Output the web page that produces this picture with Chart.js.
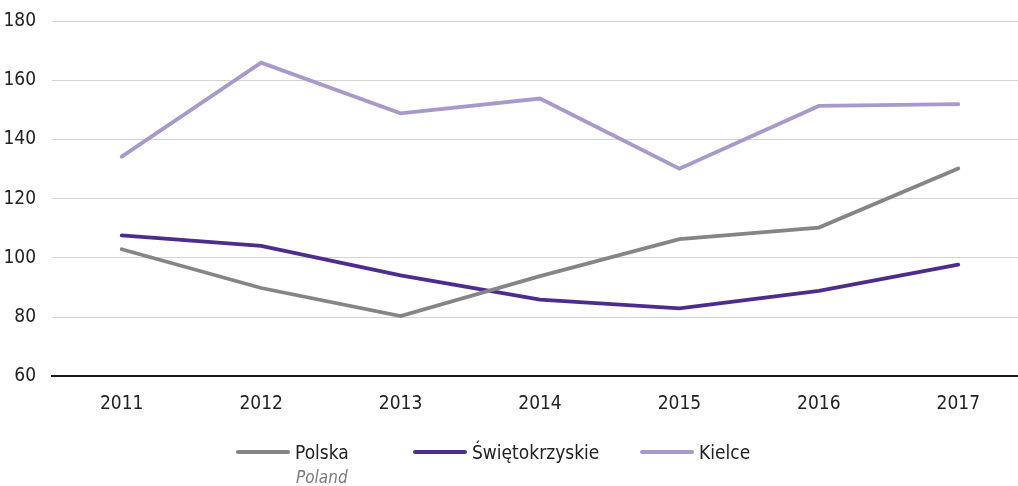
<!DOCTYPE html>
<html>
<head>
  <meta charset="UTF-8">
  <title>Polska, Świętokrzyskie, Kielce 2011–2017</title>
  <script src="https://cdn.jsdelivr.net/npm/chart.js"></script>
  <style>
    body {
      margin: 0;
      background: #ffffff;
      font-family: "Liberation Sans Narrow", "DejaVu Sans Condensed", sans-serif;
      color: #222;
    }
    #wrap {
      position: relative;
      width: 1018px;
      height: 486px;
      overflow: hidden;
    }
    .legend-item {
      position: absolute;
      top: 441px;
      display: flex;
      align-items: center;
      font-size: 19px;
      line-height: 22px;
    }
    .legend-item .swatch {
      width: 54px;
      height: 4px;
      border-radius: 2px;
      margin-right: 5px;
    }
    .legend-sub {
      position: absolute;
      top: 467px;
      left: 296px;
      font-size: 17px;
      font-style: italic;
      color: #7a7a7a;
    }
  </style>
</head>
<body>

  <div id="wrap">
    <!-- canvas is a bit wider than the frame so the last category runs past the edge -->
    <canvas id="lineChart" width="1028" height="486"></canvas>
    <div id="legend"></div>
  </div>

  <script>
    const years = ['2011', '2012', '2013', '2014', '2015', '2016', '2017'];

    const polska = [102.9, 89.8, 80.3, 93.8, 106.3, 110.2, 130.2];
    const swietokrzyskie = [107.6, 104.0, 94.1, 85.9, 82.9, 88.8, 97.7];
    const kielce = [134.2, 165.9, 148.8, 153.8, 130.1, 151.3, 151.9];

    const seriesNames = ['Polska', 'Świętokrzyskie', 'Kielce'];
    const seriesSub = ['Poland', '', ''];
    const seriesColors = ['#858585', '#4e2c8e', '#a899cd'];
    const legendLeft = [236, 413, 640];

    const yTicks = [60, 80, 100, 120, 140, 160, 180];

    const fontFamily = '"Liberation Sans Narrow", "DejaVu Sans Condensed", sans-serif';

    const ctx = document.getElementById('lineChart').getContext('2d');

    const chart = new Chart(ctx, {
      type: 'line',
      data: {
        labels: years,
        datasets: [polska, swietokrzyskie, kielce].map((values, i) => ({
          label: seriesNames[i],
          data: values,
          borderColor: seriesColors[i],
          backgroundColor: seriesColors[i],
          borderWidth: 3.8,
          pointRadius: 0,
          tension: 0,
          borderCapStyle: 'round',
          borderJoinStyle: 'miter'
        }))
      },
      options: {
        responsive: false,
        animation: false,
        layout: {
          padding: { top: 21, right: 0, bottom: 55, left: 0 }
        },
        plugins: {
          legend: { display: false },
          tooltip: { enabled: false }
        },
        scales: {
          x: {
            offset: true,
            grid: { display: false, drawTicks: false },
            border: { display: true, color: '#1a1a1a', width: 2 },
            ticks: {
              padding: 16,
              color: '#222',
              font: { family: fontFamily, size: 19 }
            }
          },
          y: {
            min: yTicks[0],
            max: yTicks[yTicks.length - 1],
            afterBuildTicks: scale => {
              scale.ticks = yTicks.map(v => ({ value: v }));
            },
            afterFit: scale => {
              scale.width = 52;
              scale.paddingTop = 0;
              scale.paddingBottom = 0;
            },
            grid: { color: '#d3d3d3', lineWidth: 1, drawTicks: false },
            border: { display: false },
            ticks: {
              padding: 16,
              color: '#222',
              font: { family: fontFamily, size: 19 }
            }
          }
        }
      }
    });

    // legend under the plot, built from the same series lists
    const legend = document.getElementById('legend');
    seriesNames.forEach((name, i) => {
      const item = document.createElement('div');
      item.className = 'legend-item';
      item.style.left = legendLeft[i] + 'px';
      const sw = document.createElement('span');
      sw.className = 'swatch';
      sw.style.background = seriesColors[i];
      const txt = document.createElement('span');
      txt.textContent = name;
      item.appendChild(sw);
      item.appendChild(txt);
      legend.appendChild(item);
      if (seriesSub[i]) {
        const sub = document.createElement('div');
        sub.className = 'legend-sub';
        sub.style.left = (legendLeft[i] + 60) + 'px';
        sub.textContent = seriesSub[i];
        legend.appendChild(sub);
      }
    });
  </script>

</body>
</html>
